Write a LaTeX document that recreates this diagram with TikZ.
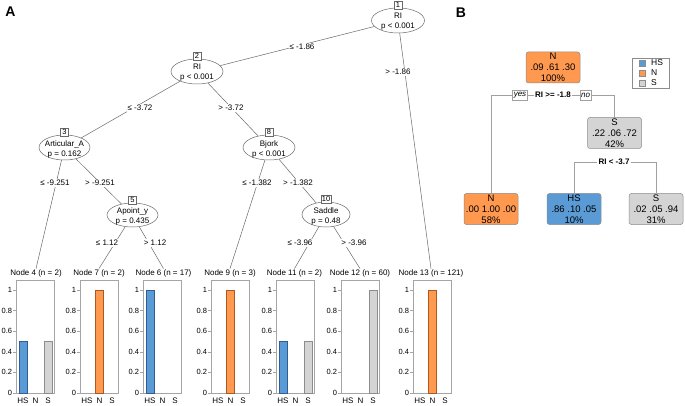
\documentclass[tikz,border=0pt]{standalone}
\usepackage{fontspec}
\setmainfont{Liberation Sans}
\usetikzlibrary{shapes.geometric}
\definecolor{hsblue}{RGB}{91,155,213}
\definecolor{hsborder}{RGB}{45,95,150}
\definecolor{norange}{RGB}{255,153,80}
\definecolor{nborder}{RGB}{170,90,30}
\definecolor{sgray}{RGB}{212,212,212}
\definecolor{sborder}{RGB}{140,140,140}
\definecolor{linegray}{RGB}{105,105,105}
\definecolor{framegray}{RGB}{165,165,165}
\definecolor{bline}{RGB}{160,160,160}

\newcommand{\panelframe}[1]{%
  \draw[framest] (#1,280) rectangle ({#1+38},393);
  \foreach \v/\t in {0/0,0.2/0.2,0.4/0.4,0.6/0.6,0.8/0.8,1/1}{%
    \draw[framest] (#1,{393-103*\v}) -- ({#1-3},{393-103*\v})
      node[anchor=east, ticklab]{\t};
  }
  \node[xlab] at ({#1+7},400.5) {HS};
  \node[xlab] at ({#1+19.5},400.5) {N};
  \node[xlab] at ({#1+32},400.5) {S};
}
\newcommand{\hsbar}[2]{\draw[barst, fill=hsblue, draw=hsborder] ({#1+3},393) rectangle ({#1+11},{393-103*#2});}
\newcommand{\nbar}[2]{\draw[barst, fill=norange, draw=nborder] ({#1+15.5},393) rectangle ({#1+23.5},{393-103*#2});}
\newcommand{\sbar}[2]{\draw[barst, fill=sgray, draw=sborder] ({#1+28},393) rectangle ({#1+36},{393-103*#2});}

\begin{document}
\begin{tikzpicture}[x=1pt,y=-1pt,
  inner/.style={ellipse, draw=linegray, line width=0.5pt, fill=white,
    minimum width=52pt, minimum height=25pt, inner sep=0pt},
  intext/.style={align=center, inner sep=0pt, font=\fontsize{8}{10}\selectfont},
  numbox/.style={draw=linegray, fill=white, line width=0.45pt, inner sep=0.6pt,
    minimum width=8pt, minimum height=8pt, font=\fontsize{7.5}{7.5}\selectfont},
  edgelab/.style={fill=white, inner sep=1pt, font=\fontsize{8}{9}\selectfont},
  leaflab/.style={inner sep=1pt, font=\fontsize{8}{9}\selectfont},
  branch/.style={draw=linegray, line width=0.5pt},
  framest/.style={draw=framegray, line width=0.5pt},
  barst/.style={line width=0.45pt},
  ticklab/.style={inner sep=0.6pt, font=\fontsize{7.5}{8}\selectfont},
  xlab/.style={inner sep=0pt, font=\fontsize{8}{9}\selectfont},
  panellab/.style={inner sep=0pt, font=\fontsize{14}{14}\selectfont\bfseries},
  rbox/.style={draw=sborder, rounded corners=2.5pt, line width=0.5pt,
    minimum width=54pt, minimum height=31pt, inner sep=0pt, align=center,
    font=\fontsize{9.5}{11}\selectfont},
  bbranch/.style={draw=bline, line width=0.8pt},
  yesno/.style={draw=bline, fill=white, line width=0.5pt, inner sep=1.2pt,
    minimum height=10pt, font=\fontsize{8}{9}\selectfont\itshape},
  splitlab/.style={fill=white, inner sep=1.2pt, font=\fontsize{8}{9}\selectfont\bfseries},
  legsq/.style={draw=sborder, line width=0.4pt, minimum size=6pt, inner sep=0pt},
  legtxt/.style={anchor=west, inner sep=0pt, font=\fontsize{8.5}{9}\selectfont}
]
\useasboundingbox (0,0) rectangle (685,406);
\fill[white] (0,0) rectangle (685,406);

% ---------------- Panel A ----------------
\node[panellab] (labA) at (10.5,12) {A};

\node[inner, minimum width=53pt] (n1) at (398,20.5) {};
\node[intext] at ([yshift=-1.5pt]n1.center) {RI\\p < 0.001};
\node[inner] (n2) at (197,71.5) {};
\node[intext] at ([yshift=-1.5pt]n2.center) {RI\\p < 0.001};
\node[inner, minimum width=51pt] (n3) at (64.5,147.5) {};
\node[intext] at ([yshift=-1.5pt]n3.center) {Articular\_A\\p = 0.162};
\node[inner, minimum width=51pt, minimum height=24pt] (n5) at (132.5,215) {};
\node[intext] at ([yshift=-1.5pt]n5.center) {Apoint\_y\\p = 0.435};
\node[inner] (n8) at (269,147.5) {};
\node[intext] at ([yshift=-1.5pt]n8.center) {Bjork\\p < 0.001};
\node[inner, minimum width=48pt] (n10) at (326,214.5) {};
\node[intext] at ([yshift=-1.5pt]n10.center) {Saddle\\p = 0.48};

% leaf labels
\node[leaflab] (l4) at (36,273.5) {Node 4 (n = 2)};
\node[leaflab] (l7) at (99,273.5) {Node 7 (n = 2)};
\node[leaflab] (l6) at (163.5,273.5) {Node 6 (n = 17)};
\node[leaflab] (l9) at (230,273.5) {Node 9 (n = 3)};
\node[leaflab] (l11) at (294.5,273.5) {Node 11 (n = 2)};
\node[leaflab] (l12) at (360,273.5) {Node 12 (n = 60)};
\node[leaflab] (l13) at (431,273.5) {Node 13 (n = 121)};

% branches
\begin{scope}[on background layer/.style={}]
\draw[branch] (n1) -- (n2);
\draw[branch] (n1) -- (l13.north);
\draw[branch] (n2) -- (n3);
\draw[branch] (n2) -- (n8);
\draw[branch] (n3) -- (l4.north);
\draw[branch] (n3) -- (n5);
\draw[branch] (n5) -- (l7.north);
\draw[branch] (n5) -- (l6.north);
\draw[branch] (n8) -- (l9.north);
\draw[branch] (n8) -- (n10);
\draw[branch] (n10) -- (l11.north);
\draw[branch] (n10) -- (l12.north);
\end{scope}

% number boxes
\node[numbox] (b1) at ([yshift=3pt]n1.north) {1};
\node[numbox] (b2) at ([yshift=3pt]n2.north) {2};
\node[numbox] (b3) at ([yshift=3pt]n3.north) {3};
\node[numbox] (b5) at ([yshift=2.5pt]n5.north) {5};
\node[numbox] (b8) at ([yshift=3pt]n8.north) {8};
\node[numbox] (b10) at ([yshift=2.5pt]n10.north) {10};

% edge labels
\node[edgelab] (e12) at (302,47) {≤ -1.86};
\node[edgelab] (e113) at (398,72) {> -1.86};
\node[edgelab] (e23) at (140,108) {≤ -3.72};
\node[edgelab] (e28) at (231,108) {> -3.72};
\node[edgelab] (e34) at (55,183) {≤ -9.251};
\node[edgelab] (e35) at (100,183) {> -9.251};
\node[edgelab] (e89) at (257,183) {≤ -1.382};
\node[edgelab] (e810) at (298,183) {> -1.382};
\node[edgelab] (e57) at (107,243) {≤ 1.12};
\node[edgelab] (e56) at (155,243) {> 1.12};
\node[edgelab] (e1011) at (300,243) {≤ -3.96};
\node[edgelab] (e1012) at (354,243) {> -3.96};

% bar panels
\panelframe{16}  \hsbar{16}{0.5} \sbar{16}{0.5}
\panelframe{80}  \nbar{80}{1}
\panelframe{143} \hsbar{143}{1}
\panelframe{211} \nbar{211}{1}
\panelframe{276} \hsbar{276}{0.5} \sbar{276}{0.5}
\panelframe{341} \sbar{341}{1}
\panelframe{413} \nbar{413}{1}

% ---------------- Panel B ----------------
\node[panellab] (labB) at (461,13) {B};

\node[rbox, fill=norange] (r1) at (553,67.5) {N\\.09 .61 .30\\100\%};
\node[rbox, fill=sgray] (r3) at (614.5,133) {S\\.22 .06 .72\\42\%};
\node[rbox, fill=norange] (r2) at (491,209) {N\\.00 1.00 .00\\58\%};
\node[rbox, fill=hsblue] (r6) at (574,209) {HS\\.86 .10 .05\\10\%};
\node[rbox, fill=sgray] (r7) at (656,209) {S\\.02 .05 .94\\31\%};

\node[splitlab] (s1) at (553,95) {RI >= -1.8};
\node[yesno] (yes) at (520,95) {yes};
\node[yesno] (no) at (585.5,95) {no};
\draw[bbranch] (yes.east) -- (s1.west);
\draw[bbranch] (s1.east) -- (no.west);
\draw[bbranch] (yes.west) -| (r2.north);
\draw[bbranch] (no.east) -| (r3.north);

\node[splitlab] (s2) at (614,162) {RI < -3.7};
\draw[bbranch] (s2.west) -| (r6.north);
\draw[bbranch] (s2.east) -| (r7.north);

% legend
\node[draw=sborder, fill=white, line width=0.5pt, minimum width=37pt,
  minimum height=30pt, inner sep=0pt] (leg) at (650.5,73) {};
\node[legsq, fill=hsblue] (q1) at (642,63) {};
\node[legsq, fill=norange] (q2) at (642,73) {};
\node[legsq, fill=sgray] (q3) at (642,83) {};
\node[legtxt] (t1) at (651,63) {HS};
\node[legtxt] (t2) at (651,73) {N};
\node[legtxt] (t3) at (651,83) {S};
\end{tikzpicture}
\end{document}
